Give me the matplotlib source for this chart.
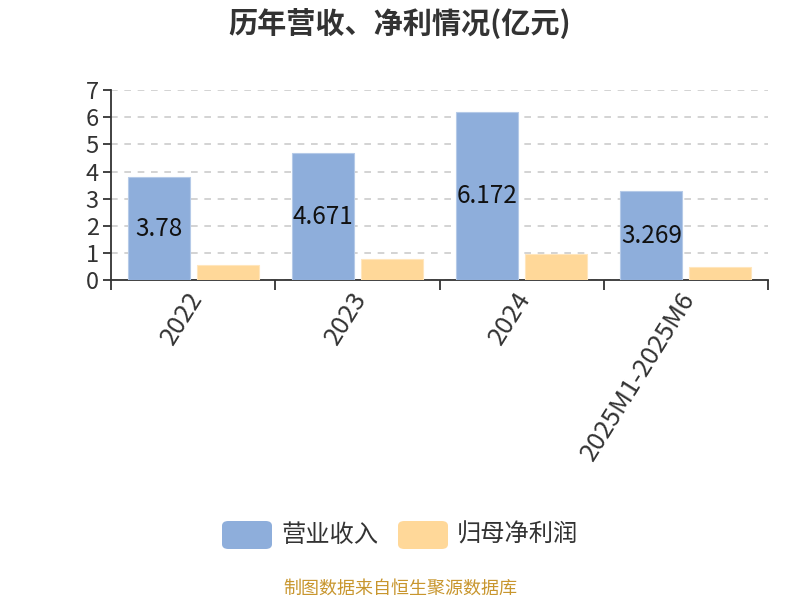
import matplotlib
matplotlib.use("Agg")
import matplotlib.pyplot as plt
from matplotlib.patches import FancyBboxPatch
import numpy as np

plt.rcParams['font.family'] = ['Noto Sans CJK SC', 'DejaVu Sans']

categories = ["2022", "2023", "2024", "2025M1-2025M6"]
revenue = [3.78, 4.671, 6.172, 3.269]
net_profit = [0.55, 0.79, 0.95, 0.48]
series_names = ["营业收入", "归母净利润"]
title = "历年营收、净利情况(亿元)"
source = "制图数据来自恒生聚源数据库"

blue = "#8EAEDB"
orange = "#FFD899"

fig = plt.figure(figsize=(8, 6), dpi=100)
ax = fig.add_axes([0.139, 0.533, 0.821, 0.317])

x = np.arange(len(categories))
w = 0.378
gap = 0.043
off = (w + gap) / 2
b1 = ax.bar(x - off, revenue, w, color=blue, edgecolor="#B5CAE8", linewidth=0.8, zorder=3)
b2 = ax.bar(x + off, net_profit, w, color=orange, edgecolor="#FFE6BD", linewidth=0.8, zorder=3)

for xi, v in zip(x, revenue):
    ax.text(xi - off, v / 2, f"{v:g}", ha="center", va="center", fontsize=17.5, color="#111111", zorder=4)

ax.set_xlim(-0.5, len(categories) - 0.5)
ax.set_ylim(0, 7)
ax.set_yticks(range(0, 8))
ax.yaxis.grid(True, linestyle=(0, (4, 4)), color="#CCCCCC", linewidth=1.2, zorder=0)
ax.set_axisbelow(True)

ax.set_xticks(np.arange(-0.5, len(categories), 1.0), minor=False)
ax.set_xticklabels([])
ax.set_xticks(x - 0.045, minor=True)
ax.set_xticklabels(categories, minor=True, rotation=58, ha="right", rotation_mode="anchor",
                   fontsize=18.5, color="#333333")
ax.tick_params(axis="x", which="major", length=7, width=1.3, color="#333333")
ax.tick_params(axis="x", which="minor", length=0, pad=5)
ax.tick_params(axis="y", length=6, width=1.3, color="#333333", labelsize=17, labelcolor="#333333", pad=3)

for s in ["top", "right"]:
    ax.spines[s].set_visible(False)
for s in ["left", "bottom"]:
    ax.spines[s].set_color("#333333")
    ax.spines[s].set_linewidth(1.3)

fig.text(0.5, 1 - 23 / 600, title, ha="center", va="center", fontsize=21, fontweight="bold", color="#333333")

# legend
W, H = 800, 600
def fig_box(x0, y0, w, h, color):
    p = FancyBboxPatch((x0 / W, 1 - (y0 + h) / H), w / W, h / H,
                       boxstyle="round,pad=0,rounding_size=0.008",
                       transform=fig.transFigure, facecolor=color, edgecolor="none")
    fig.patches.append(p)

fig_box(222, 521, 50, 28, blue)
fig.text(281 / W, 1 - 535 / H, series_names[0], ha="left", va="center", fontsize=17.5, color="#333333")
fig_box(398, 521, 50, 28, orange)
fig.text(457 / W, 1 - 535 / H, series_names[1], ha="left", va="center", fontsize=17.5, color="#333333")

fig.text(0.5, 1 - 589 / H, source, ha="center", va="center", fontsize=13, color="#C8962E")

fig.savefig("out.png", dpi=100)
